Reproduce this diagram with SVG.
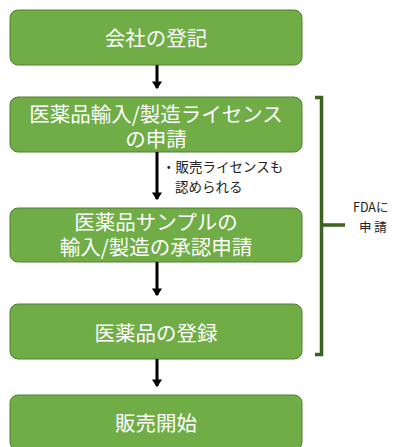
<svg xmlns="http://www.w3.org/2000/svg" width="394" height="447" viewBox="0 0 394 447">
<style>
.box{fill:#70ad47;stroke:#507e32;stroke-width:1}
.bt{font-family:"Noto Sans CJK JP","Liberation Sans",sans-serif;font-size:20.5px;fill:#fff;text-anchor:middle}
.st{font-family:"Noto Sans CJK JP","Liberation Sans",sans-serif;font-size:13.5px;fill:#222}
.arr{stroke:#000;stroke-width:3;fill:none}
</style>
<defs>
<marker id="ah" markerWidth="4" markerHeight="4" refX="2.2" refY="2" orient="auto" markerUnits="strokeWidth">
<path d="M0,0.3 L2.6,2 L0,3.7 Z" fill="#000"/>
</marker>
</defs>
<rect width="394" height="447" fill="#fff"/>
<g id="n1"><rect class="box" x="10" y="10" width="292" height="55" rx="8"/><text class="bt" x="156" y="45.5">会社の登記</text></g>
<g id="n2"><rect class="box" x="10" y="97" width="292" height="55" rx="8"/><text class="bt" x="156" y="122">医薬品輸入/製造ライセンス</text><text class="bt" x="156" y="147">の申請</text></g>
<g id="n3"><rect class="box" x="10" y="208" width="292" height="54" rx="8"/><text class="bt" x="156" y="230">医薬品サンプルの</text><text class="bt" x="156" y="255">輸入/製造の承認申請</text></g>
<g id="n4"><rect class="box" x="10" y="304" width="292" height="55" rx="8"/><text class="bt" x="156" y="340.5">医薬品の登録</text></g>
<g id="n5"><rect class="box" x="10" y="395" width="292" height="55" rx="8"/><text class="bt" x="156" y="430.5">販売開始</text></g>
<g id="connectors">
<line class="arr" x1="157" y1="65" x2="157" y2="88" marker-end="url(#ah)"/>
<line class="arr" x1="157" y1="152" x2="157" y2="199" marker-end="url(#ah)"/>
<line class="arr" x1="157" y1="262" x2="157" y2="295" marker-end="url(#ah)"/>
<line class="arr" x1="157" y1="359" x2="157" y2="386" marker-end="url(#ah)"/>
</g>
<g id="note"><text class="st" x="162" y="172">・販売ライセンスも</text><text class="st" x="175" y="192">認められる</text></g>
<g id="bracket">
<path d="M315,97.5 H321.5 V354.5 H315 M321.5,225 H345" fill="none" stroke="#3b6420" stroke-width="3.5"/>
<text class="st" x="353" y="212" style="font-size:12.5px">FDAに</text>
<text class="st" x="359" y="232" style="font-size:12.5px">申 請</text>
</g>
</svg>
